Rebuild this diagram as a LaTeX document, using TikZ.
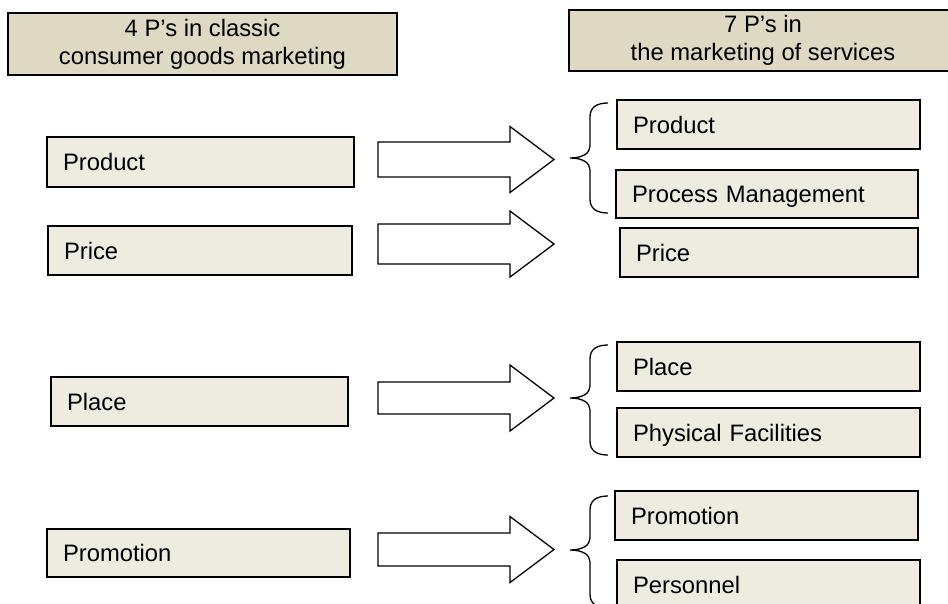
\documentclass[tikz,border=0pt]{standalone}
\usepackage{fontspec}
\setmainfont{Liberation Sans}
\definecolor{tanlight}{HTML}{EEECE1}
\definecolor{tandark}{HTML}{DDD9C3}

% curly brace opening to the right: top end, tip, bottom end (y values)
\newcommand\drawbrace[3]{%
  \draw[curly] (608,#1) .. controls (597,#1) and (590,#1+4) .. (590,#1+14)
    -- (590,#2-12) .. controls (590,#2-5) and (583,#2) .. (570,#2)
    .. controls (583,#2) and (590,#2+5) .. (590,#2+12)
    -- (590,#3-14) .. controls (590,#3-4) and (597,#3) .. (608,#3);}

\begin{document}
\begin{tikzpicture}[x=1pt,y=-1pt,
  pbox/.style={draw=black, line width=1.8pt, fill=tanlight,
    inner xsep=16pt, inner ysep=0pt, align=left,
    text height=17pt, text depth=0pt,
    font=\fontsize{23.8}{28}\selectfont},
  hbox/.style={draw=black, line width=2.2pt, fill=tandark,
    inner sep=0pt, align=center,
    font=\fontsize{23.8}{28}\selectfont},
  arrowshape/.style={draw=black, line width=1.3pt, fill=white, line join=miter},
  curly/.style={draw=black, line width=1.3pt},
  pics/blockarrow/.style={code={
    \draw[arrowshape] (0,-#1) -- (132,-#1) -- (132,-33) -- (176,0)
      -- (132,33) -- (132,#1) -- (0,#1) -- cycle;}}]

\path[use as bounding box] (0,0) rectangle (948,603);
\fill[white] (0,0) rectangle (948,603);
\clip (0,0) rectangle (948,603);

% column headings
\node[hbox, minimum width=389pt, minimum height=62pt] (h4) at (202.5,44)
  {4 P’s in classic\\consumer goods marketing};
\node[hbox, minimum width=388pt, minimum height=61pt] (h7) at (763,40.5)
  {7 P’s in\\the marketing of services};

% the four classic P's
\node[pbox, minimum width=307pt, minimum height=50pt, text width=275pt] (lprod) at (200.5,162) {Product};
\node[pbox, minimum width=304pt, minimum height=49pt, text width=272pt] (lprice) at (200,250.5) {Price};
\node[pbox, minimum width=297pt, minimum height=49pt, text width=265pt] (lplace) at (199.5,401.5) {Place};
\node[pbox, minimum width=303pt, minimum height=48pt, text width=271pt] (lpromo) at (198.5,553) {Promotion};

% the seven service P's
\node[pbox, minimum width=303pt, minimum height=49pt, text width=271pt] (rprod) at (768.5,124.5) {Product};
\node[pbox, minimum width=302pt, minimum height=48pt, text width=270pt] (rproc) at (767,194) {Process Management};
\node[pbox, minimum width=298pt, minimum height=49pt, text width=266pt] (rprice) at (769,252.5) {Price};
\node[pbox, minimum width=303pt, minimum height=49pt, text width=271pt] (rplace) at (768.5,366.5) {Place};
\node[pbox, minimum width=303pt, minimum height=49pt, text width=271pt] (rphys) at (768.5,432.5) {Physical Facilities};
\node[pbox, minimum width=303pt, minimum height=49pt, text width=271pt] (rpromo) at (766.5,515.5) {Promotion};
\node[pbox, minimum width=303pt, minimum height=49pt, text width=271pt] (rpers) at (768.5,584.5) {Personnel};

% block arrows from each classic P to its service counterparts
\pic (aprod)  at (378,159.5) {blockarrow=17.5};
\pic (aprice) at (378,244)   {blockarrow=20};
\pic (aplace) at (378,398)   {blockarrow=16};
\pic (apromo) at (378,549.5) {blockarrow=16.5};

% braces grouping the expanded P's
\drawbrace{103}{158}{213}
\drawbrace{345}{398}{455}
\drawbrace{496}{550}{608}

\end{tikzpicture}
\end{document}
